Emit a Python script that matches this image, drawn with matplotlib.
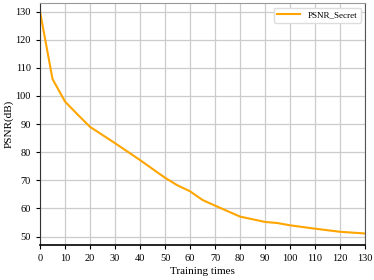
import matplotlib
matplotlib.use("Agg")
from matplotlib import pyplot as plt

epochs = [0, 5, 10, 15, 20, 30, 40, 50, 55, 60, 65, 70, 80, 90, 95, 100, 110, 120, 130]
psnr_secret = [130, 106, 98, 93.4, 89, 83.2, 77.2, 70.9, 68.2, 66.1, 63.0, 61.0, 57.1, 55.2, 54.8, 54.0, 52.8, 51.7, 51.1]
x_ticks = list(range(0, 131, 10))
y_ticks = list(range(50, 131, 10))

plt.rcParams['font.family'] = ['Liberation Serif', 'DejaVu Serif']

fig = plt.figure(figsize=(3.74, 2.80), dpi=100)
ax = fig.add_axes([0.107, 0.125, 0.869, 0.864])

ax.plot(epochs, psnr_secret, color="#FFA500", linewidth=1.5, label="PSNR_Secret")
ax.set_xlim(0, 130)
ax.set_ylim(47, 133)
ax.set_xticks(x_ticks)
ax.set_yticks(y_ticks)
ax.grid(True, color="#cccccc", linewidth=0.9)
ax.set_axisbelow(True)
ax.tick_params(labelsize=7.5, length=3, width=0.8)

ax.spines["left"].set_color("#333333")
ax.spines["bottom"].set_color("black")
ax.spines["bottom"].set_linewidth(1.2)
ax.spines["right"].set_color("#555555")
ax.spines["top"].set_color("#999999")

ax.set_xlabel("Training times", fontsize=8)
ax.set_ylabel("PSNR(dB)", fontsize=8)
ax.xaxis.set_label_coords(0.5, -0.09)
ax.yaxis.set_label_coords(-0.08, 0.5)
ax.legend(loc="upper right", fontsize=6.5, fancybox=True, framealpha=1,
          edgecolor="#dddddd", handlelength=2.5)

fig.savefig("out.png", dpi=100)
